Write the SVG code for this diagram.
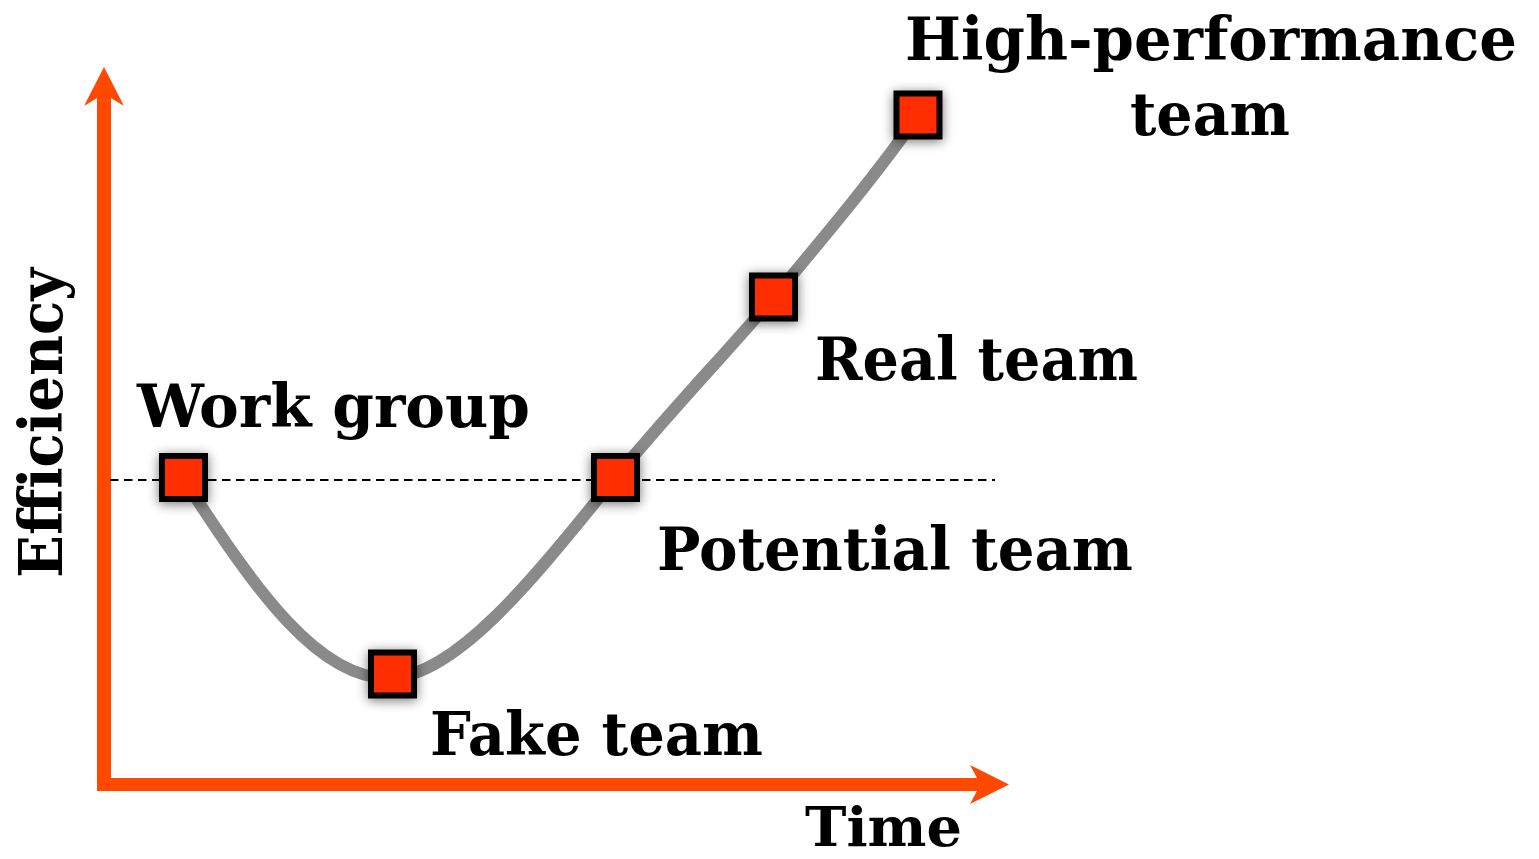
<svg xmlns="http://www.w3.org/2000/svg" width="1539" height="859" viewBox="0 0 1539 859">
<defs>
<filter id="sh" x="-50%" y="-50%" width="200%" height="200%">
<feGaussianBlur in="SourceAlpha" stdDeviation="6"/>
<feOffset dx="0" dy="2" result="b"/>
<feComponentTransfer><feFuncA type="linear" slope="0.55"/></feComponentTransfer>
<feMerge><feMergeNode/><feMergeNode in="SourceGraphic"/></feMerge>
</filter>
</defs>
<style>
.lbl{font-family:"DejaVu Serif","Liberation Serif",serif;font-weight:bold;font-size:60px;fill:#000}
.box{fill:#ff2d00;stroke:#000;stroke-width:6}
.axis{fill:#ff4800}
</style>
<rect width="1539" height="859" fill="#fff"/>
<g id="axes">
<polygon class="axis" points="97,98 84,106 104,67 124,106 111,98 111,778 977,778 970,765 1009,784.5 970,804 977,791 97,791"/>
</g>
<g id="connectors">
<line x1="110" y1="480" x2="995" y2="480" stroke="#000" stroke-width="2" stroke-dasharray="8.5,5.5"/>
<path d="M183,478 C255,590 320,682 392,678 C460,674 540,570 615,478 C680,400 720,360 774,297 C830,230 880,170 918,115" fill="none" stroke="#8a8a8a" stroke-width="12" stroke-linecap="round"/>
</g>
<g id="work-group"><rect class="box" filter="url(#sh)" x="162" y="456" width="43" height="43"/><text class="lbl" x="137" y="427" textLength="393" lengthAdjust="spacingAndGlyphs">Work group</text></g>
<g id="fake-team"><rect class="box" filter="url(#sh)" x="371" y="652.5" width="43" height="43"/><text class="lbl" x="430" y="755" textLength="333" lengthAdjust="spacingAndGlyphs">Fake team</text></g>
<g id="potential-team"><rect class="box" filter="url(#sh)" x="594" y="456" width="43" height="43"/><text class="lbl" x="657" y="570" textLength="476" lengthAdjust="spacingAndGlyphs">Potential team</text></g>
<g id="real-team"><rect class="box" filter="url(#sh)" x="752" y="275.5" width="43" height="43"/><text class="lbl" x="815" y="380" textLength="323" lengthAdjust="spacingAndGlyphs">Real team</text></g>
<g id="high-performance-team"><rect class="box" filter="url(#sh)" x="896.5" y="93.5" width="43" height="43"/><text class="lbl" x="905" y="60" textLength="612" lengthAdjust="spacingAndGlyphs">High-performance</text><text class="lbl" x="1130" y="135" textLength="160" lengthAdjust="spacingAndGlyphs">team</text></g>
<g id="x-label"><text class="lbl" x="805" y="846" font-size="54" style="font-size:54px" textLength="157" lengthAdjust="spacingAndGlyphs">Time</text></g>
<g id="y-label"><text class="lbl" transform="translate(62,578) rotate(-90)" x="0" y="0" textLength="310" lengthAdjust="spacingAndGlyphs">Efficiency</text></g>
</svg>
